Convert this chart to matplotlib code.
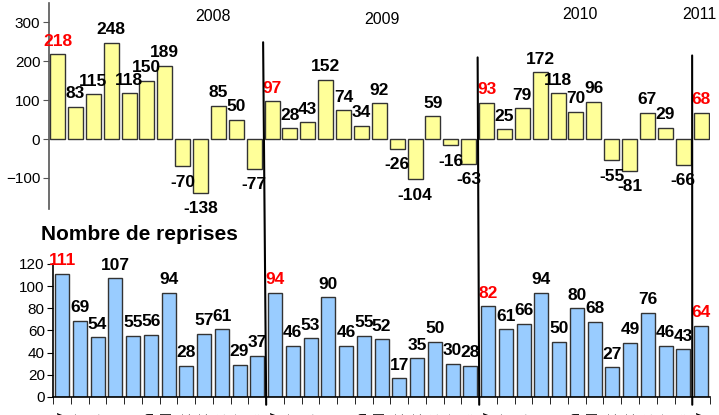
import numpy as np
import matplotlib.pyplot as plt
from matplotlib.patches import ConnectionPatch

plt.rcParams['font.family'] = ['Liberation Sans', 'DejaVu Sans']

# solde mensuel (graphique du haut)
solde = [218, 83, 115, 248, 118, 150, 189, -70, -138, 85, 50, -77,
         97, 28, 43, 152, 74, 34, 92, -26, -104, 59, -16, -63,
         93, 25, 79, 172, 118, 70, 96, -55, -81, 67, 29, -66,
         68]
# nombre de reprises (graphique du bas)
reprises = [111, 69, 54, 107, 55, 56, 94, 28, 57, 61, 29, 37,
            94, 46, 53, 90, 46, 55, 52, 17, 35, 50, 30, 28,
            82, 61, 66, 94, 50, 80, 68, 27, 49, 76, 46, 43,
            64]
mois = ['janv', 'févr', 'mars', 'avr', 'mai', 'juin',
        'juil', 'août', 'sept', 'oct', 'nov', 'déc']
annees = ['2008', '2009', '2010', '2011']
debut_annee = [0, 12, 24, 36]

n = len(solde)
x = np.arange(n)
labels = [mois[i % 12] for i in range(n)]

fig = plt.figure(figsize=(7.19, 4.15), dpi=100)
ax1 = fig.add_axes([0.0676, 0.4964, 0.9199, 0.4964])
ax2 = fig.add_axes([0.0739, 0.0434, 0.9136, 0.3205])

# --- top chart
ax1.bar(x, solde, width=0.84, color='#FFFF99', edgecolor='#333333', linewidth=1)
ax1.set_xlim(-0.5, n - 0.5)
ax1.set_ylim(-180, 350)
ax1.set_yticks([-100, 0, 100, 200, 300])
ax1.set_xticks([])
for s in ['top', 'right', 'bottom']:
    ax1.spines[s].set_visible(False)
ax1.spines['left'].set_color('#555555')
ax1.spines['left'].set_linewidth(1.2)
ax1.tick_params(axis='y', labelsize=11, length=4, color='#555555', pad=2)

for i, v in enumerate(solde):
    col = 'red' if i in debut_annee else 'black'
    if v >= 0:
        ax1.annotate(str(v), (i, v), xytext=(0, 4), textcoords='offset points',
                     ha='center', va='bottom', fontsize=12.5, fontweight='bold',
                     color=col, annotation_clip=False)
    else:
        ax1.annotate(str(v), (i, v), xytext=(0, -6), textcoords='offset points',
                     ha='center', va='top', fontsize=12.5, fontweight='bold',
                     color=col, annotation_clip=False)

# year captions
annee_x = [8.7, 18.15, 29.2, 35.9]
annee_y = [314, 307, 320, 320]
for a, ax_, ay in zip(annees, annee_x, annee_y):
    ax1.text(ax_, ay, a, ha='center', va='center', fontsize=11.5)

# --- bottom chart
ax2.bar(x, reprises, width=0.79, color='#99CCFF', edgecolor='#333333', linewidth=1)
ax2.set_xlim(-0.5, n - 0.5)
ax2.set_ylim(0, 120)
ax2.set_yticks(range(0, 121, 20))
ax2.set_xticks(x)
ax2.set_xticklabels(labels, rotation=90, fontsize=11)
ax2.set_xticks(np.arange(-0.5, n, 1), minor=True)
ax2.tick_params(axis='x', which='major', length=0, pad=11)
ax2.tick_params(axis='x', which='minor', length=5, color='black')
ax2.tick_params(axis='y', labelsize=11, length=4, pad=2)
for s in ['top', 'right']:
    ax2.spines[s].set_visible(False)
ax2.spines['left'].set_linewidth(1.2)
ax2.spines['bottom'].set_linewidth(1.2)

for i, v in enumerate(reprises):
    col = 'red' if i in debut_annee else 'black'
    ax2.annotate(str(v), (i, v), xytext=(0, 4), textcoords='offset points',
                 ha='center', va='bottom', fontsize=12.5, fontweight='bold',
                 color=col, annotation_clip=False)

fig.text(139 / 719, 1 - 234 / 415, 'Nombre de reprises', ha='center', va='center',
         fontsize=15, fontweight='bold')

# year separators across both charts
sep_top = [249, 210, 215]
for d, yt in zip(debut_annee[1:], sep_top):
    con = ConnectionPatch(xyA=(d - 0.5, yt), coordsA=ax1.transData,
                          xyB=(d - 0.5, -7), coordsB=ax2.transData,
                          color='black', linewidth=1.5)
    fig.add_artist(con)

fig.savefig('out.png', dpi=100)
